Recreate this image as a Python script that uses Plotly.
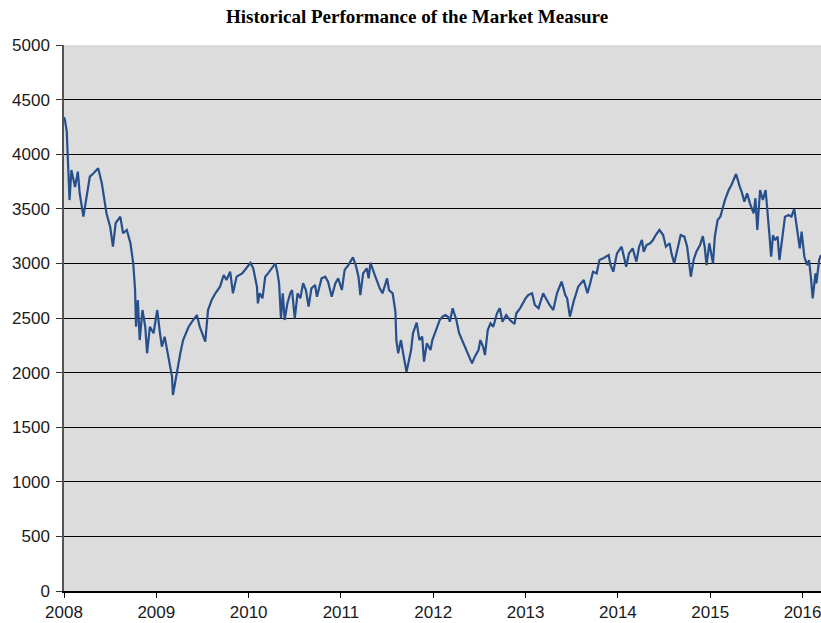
import plotly.graph_objects as go

# Decimal-year positions and index levels
years = [
    2008.00, 2008.01, 2008.03, 2008.05, 2008.06, 2008.08, 2008.12, 2008.15, 2008.17, 2008.21,
    2008.25, 2008.28, 2008.32, 2008.37, 2008.41, 2008.44, 2008.46, 2008.50, 2008.53, 2008.56,
    2008.61, 2008.64, 2008.68, 2008.72, 2008.75, 2008.77, 2008.78, 2008.80, 2008.82, 2008.85,
    2008.88, 2008.90, 2008.93, 2008.97, 2009.01, 2009.04, 2009.06, 2009.09, 2009.13, 2009.17,
    2009.18, 2009.22, 2009.26, 2009.29, 2009.35, 2009.40, 2009.44, 2009.47, 2009.53, 2009.56,
    2009.60, 2009.64, 2009.69, 2009.73, 2009.76, 2009.80, 2009.83, 2009.87, 2009.93, 2009.96,
    2010.02, 2010.05, 2010.09, 2010.10, 2010.12, 2010.15, 2010.18, 2010.21, 2010.25, 2010.29,
    2010.31, 2010.33, 2010.35, 2010.37, 2010.39, 2010.42, 2010.45, 2010.47, 2010.50, 2010.53,
    2010.56, 2010.59, 2010.62, 2010.65, 2010.68, 2010.72, 2010.74, 2010.79, 2010.83, 2010.86,
    2010.90, 2010.94, 2010.97, 2011.01, 2011.04, 2011.08, 2011.13, 2011.16, 2011.19, 2011.21,
    2011.24, 2011.28, 2011.30, 2011.32, 2011.36, 2011.39, 2011.42, 2011.45, 2011.50, 2011.52,
    2011.56, 2011.59, 2011.60, 2011.62, 2011.65, 2011.68, 2011.71, 2011.73, 2011.76, 2011.78,
    2011.82, 2011.85, 2011.88, 2011.90, 2011.93, 2011.97, 2011.99, 2012.03, 2012.07, 2012.10,
    2012.13, 2012.16, 2012.18, 2012.21, 2012.25, 2012.28, 2012.32, 2012.36, 2012.42, 2012.45,
    2012.49, 2012.51, 2012.54, 2012.56, 2012.59, 2012.62, 2012.65, 2012.69, 2012.72, 2012.75,
    2012.79, 2012.83, 2012.88, 2012.90, 2012.94, 2013.00, 2013.03, 2013.07, 2013.10, 2013.14,
    2013.19, 2013.23, 2013.26, 2013.30, 2013.34, 2013.39, 2013.43, 2013.45, 2013.48, 2013.52,
    2013.57, 2013.63, 2013.67, 2013.70, 2013.72, 2013.73, 2013.77, 2013.80, 2013.84, 2013.90,
    2013.92, 2013.95, 2013.99, 2014.04, 2014.09, 2014.12, 2014.16, 2014.20, 2014.23, 2014.26,
    2014.28, 2014.31, 2014.35, 2014.38, 2014.41, 2014.45, 2014.49, 2014.52, 2014.56, 2014.58,
    2014.61, 2014.64, 2014.68, 2014.72, 2014.75, 2014.79, 2014.82, 2014.85, 2014.89, 2014.92,
    2014.94, 2014.96, 2014.99, 2015.03, 2015.05, 2015.08, 2015.11, 2015.16, 2015.20, 2015.23,
    2015.28, 2015.32, 2015.34, 2015.37, 2015.40, 2015.43, 2015.47, 2015.49, 2015.51, 2015.54,
    2015.57, 2015.60, 2015.62, 2015.64, 2015.66, 2015.68, 2015.70, 2015.73, 2015.75, 2015.78,
    2015.81, 2015.85, 2015.88, 2015.91, 2015.94, 2015.97, 2015.99, 2016.02, 2016.05, 2016.07,
    2016.09, 2016.11, 2016.14, 2016.15, 2016.18, 2016.20,
]

levels = [
    4340, 4313, 4206, 3702, 3580, 3855, 3700, 3840, 3642, 3428,
    3642, 3795, 3825, 3871, 3733, 3580, 3459, 3336, 3153, 3370,
    3428, 3276, 3306, 3184, 3001, 2756, 2420, 2665, 2298, 2573,
    2420, 2177, 2420, 2360, 2573, 2360, 2237, 2329, 2146, 1963,
    1795, 1993, 2177, 2298, 2420, 2482, 2527, 2420, 2283, 2573,
    2665, 2726, 2787, 2894, 2848, 2924, 2726, 2879, 2909, 2940,
    3006, 2955, 2787, 2634, 2726, 2680, 2878, 2909, 2955, 3000,
    2924, 2818, 2497, 2726, 2482, 2634, 2726, 2756, 2497, 2726,
    2680, 2818, 2756, 2604, 2771, 2802, 2695, 2863, 2878, 2832,
    2695, 2818, 2863, 2756, 2940, 2985, 3055, 2985, 2878, 2710,
    2909, 2955, 2863, 3006, 2909, 2832, 2771, 2726, 2863, 2756,
    2726, 2558, 2298, 2177, 2298, 2146, 2008, 2085, 2207, 2360,
    2457, 2298, 2329, 2100, 2268, 2207, 2298, 2390, 2482, 2512,
    2527, 2512, 2466, 2589, 2482, 2360, 2283, 2207, 2085, 2146,
    2207, 2298, 2237, 2161, 2390, 2451, 2420, 2543, 2589, 2466,
    2527, 2482, 2445, 2543, 2589, 2680, 2711, 2726, 2619, 2589,
    2726, 2665, 2619, 2573, 2726, 2833, 2711, 2680, 2512, 2650,
    2787, 2848, 2726, 2818, 2894, 2924, 2909, 3031, 3046, 3077,
    2985, 2924, 3092, 3153, 2970, 3092, 3138, 3016, 3153, 3214,
    3107, 3168, 3184, 3214, 3260, 3306, 3260, 3153, 3184, 3092,
    3000, 3122, 3260, 3245, 3153, 2878, 3031, 3107, 3168, 3250,
    3153, 2985, 3184, 3000, 3245, 3397, 3428, 3581, 3672, 3718,
    3819, 3703, 3657, 3566, 3642, 3550, 3459, 3597, 3306, 3672,
    3581, 3672, 3505, 3275, 3061, 3260, 3214, 3245, 3031, 3229,
    3428, 3443, 3428, 3500, 3306, 3138, 3290, 3061, 2985, 3031,
    2878, 2680, 2909, 2818, 3031, 3077,
]

x_ticks = [2008, 2009, 2010, 2011, 2012, 2013, 2014, 2015, 2016]
y_ticks = [0, 500, 1000, 1500, 2000, 2500, 3000, 3500, 4000, 4500, 5000]

fig = go.Figure()
fig.add_trace(go.Scatter(
    x=years, y=levels, mode="lines",
    line=dict(color="#264F8C", width=2.2),
    showlegend=False, hoverinfo="skip",
))

fig.update_layout(
    width=821, height=623,
    margin=dict(l=64, r=0, t=45, b=32),
    paper_bgcolor="white",
    plot_bgcolor="#DCDCDC",
    title=dict(
        text="<b>Historical Performance of the Market Measure</b>",
        font=dict(family="Liberation Serif, Times New Roman, serif", size=19, color="black"),
        x=0.508, xref="container", xanchor="center",
        y=0.973, yref="container", yanchor="middle",
    ),
    font=dict(family="Liberation Sans, Arial, sans-serif", size=17, color="#1a1a1a"),
)

fig.update_xaxes(
    range=[2008, 2016.2],
    tickmode="array", tickvals=x_ticks, ticktext=[str(v) for v in x_ticks],
    showgrid=False, zeroline=False,
    showline=True, linecolor="black", linewidth=1.5,
    ticks="outside", ticklen=5, tickcolor="black", tickwidth=1,
    ticklabelstandoff=0, ticklabeloverflow="allow",
)
fig.update_yaxes(
    range=[0, 5000],
    tickmode="array", tickvals=y_ticks, ticktext=[str(v) for v in y_ticks],
    showgrid=True, gridcolor="black", gridwidth=1,
    zeroline=False,
    showline=True, linecolor="#555555", linewidth=1.5,
    ticks="outside", ticklen=6, tickcolor="#333333", tickwidth=1,
    ticklabelstandoff=3, ticklabeloverflow="allow",
)

fig.write_html(
    "out.html",
    config={"displayModeBar": False},
    post_script="document.body.style.margin='0';document.body.style.overflow='hidden';",
)
